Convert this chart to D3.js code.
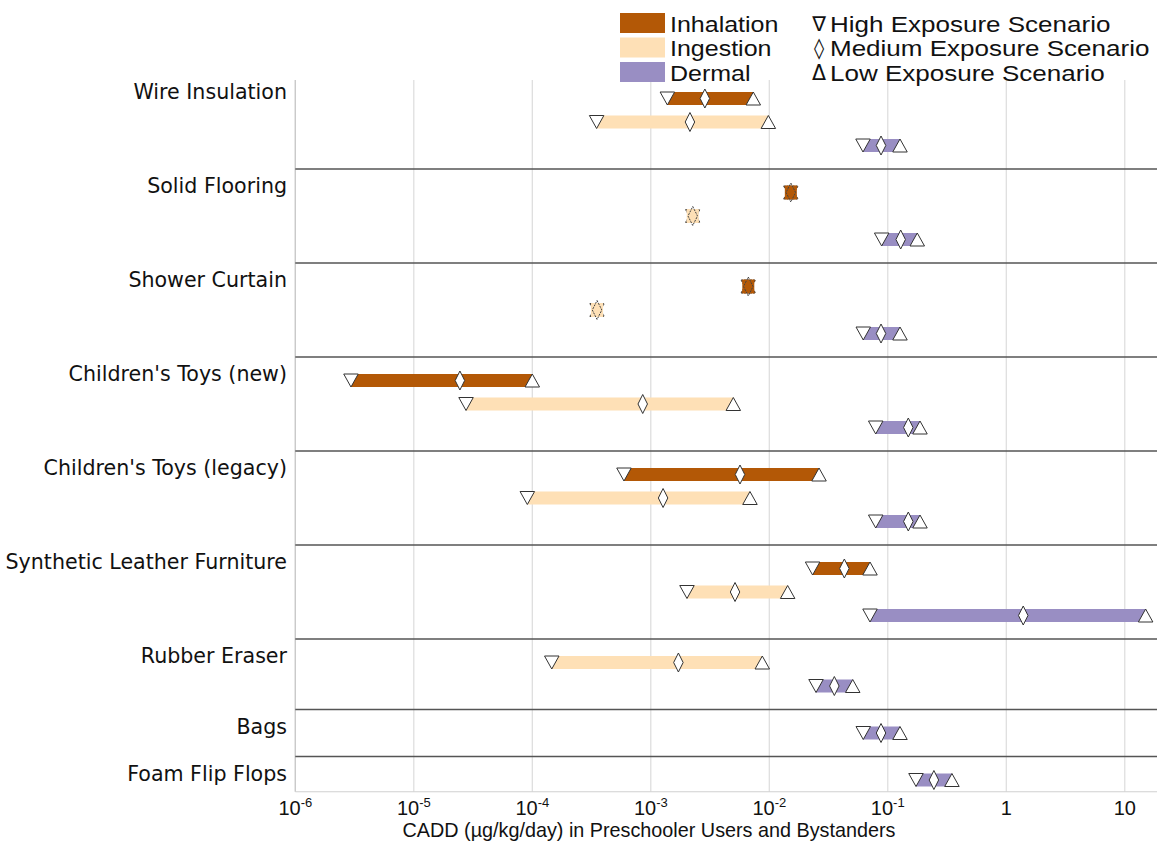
<!DOCTYPE html>
<html>
<head>
<meta charset="utf-8">
<script src="https://cdn.jsdelivr.net/npm/d3@7"></script>
<style>
  html, body { margin: 0; padding: 0; background: #fff; }
  svg { display: block; }
</style>
</head>
<body>
<svg id="chart" width="1157" height="842"></svg>
<script>
// ---------- data ----------
const categories = [
  "Wire Insulation", "Solid Flooring", "Shower Curtain", "Children's Toys (new)",
  "Children's Toys (legacy)", "Synthetic Leather Furniture", "Rubber Eraser", "Bags", "Foam Flip Flops"
];
const routes = ["Inhalation", "Ingestion", "Dermal"];
const routeColors = ["#b35806", "#fee0b6", "#998ec3"];
// [High, Medium, Low] scenario values per category (null = route not assessed)
const inhalation = [
  [1.38e-3, 2.86e-3, 7.33e-3],
  [0.0152, 0.0152, 0.0152],
  [6.65e-3, 6.65e-3, 6.65e-3],
  [2.95e-6, 2.45e-5, 1.0e-4],
  [5.94e-4, 5.66e-3, 0.0263],
  [0.0232, 0.0430, 0.0708],
  null, null, null
];
const ingestion = [
  [3.49e-4, 2.14e-3, 9.82e-3],
  [2.26e-3, 2.26e-3, 2.26e-3],
  [3.52e-4, 3.52e-4, 3.52e-4],
  [2.76e-5, 8.55e-4, 4.97e-3],
  [9.08e-5, 1.27e-3, 6.87e-3],
  [2.02e-3, 5.14e-3, 0.01429],
  [1.46e-4, 1.71e-3, 8.73e-3],
  null, null
];
const dermal = [
  [0.0618, 0.0877, 0.1268],
  [0.0888, 0.1285, 0.1774],
  [0.0621, 0.0877, 0.1268],
  [0.0791, 0.149, 0.187],
  [0.0791, 0.149, 0.187],
  [0.0708, 1.39, 15.0],
  [0.0248, 0.0354, 0.0506],
  [0.0621, 0.0877, 0.1268],
  [0.173, 0.245, 0.348]
];
const scenarioLabels = ["High Exposure Scenario", "Medium Exposure Scenario", "Low Exposure Scenario"];
const scenarioSymbols = ["\u2207", "\u25CA", "\u0394"];
const tickValues = [1e-6, 1e-5, 1e-4, 1e-3, 1e-2, 1e-1, 1, 10];
const tickLabels = [["10", "-6"], ["10", "-5"], ["10", "-4"], ["10", "-3"], ["10", "-2"], ["10", "-1"], ["1", ""], ["10", ""]];
const axisTitle = "CADD (\u00B5g/kg/day) in Preschooler Users and Bystanders";

// ---------- layout ----------
(function draw() {
const svg = d3.select("#chart");
const plotLeft = 295.3, plotRight = 1157, plotTop = 75, unitH = 23.5;
const x = d3.scaleLog().domain([1e-6, Math.pow(10, 1.272)]).range([plotLeft, plotRight]);

const routeData = [inhalation, ingestion, dermal];
const rows = [];
const panels = [];
let u = 0;
categories.forEach((cat, ci) => {
  const start = u;
  routeData.forEach((arr, ri) => {
    if (arr[ci]) {
      u += 1;
      rows.push({ cat: ci, route: ri, unit: u, vals: arr[ci] });
    }
  });
  panels.push({ name: cat, start: start, firstUnit: start + 1 });
  u += 1;
});
const totalUnits = u - 0.5;
const y = d3.scaleLinear().domain([0, totalUnits]).range([plotTop, plotTop + totalUnits * unitH]);
const bottom = y(totalUnits);

svg.append("g").selectAll("line").data(tickValues).join("line")
  .attr("x1", d => x(d)).attr("x2", d => x(d))
  .attr("y1", 80).attr("y2", bottom)
  .attr("stroke", "#dcdcdc").attr("stroke-width", 1.2);

svg.append("line").attr("x1", plotLeft).attr("x2", plotLeft).attr("y1", 80).attr("y2", bottom)
  .attr("stroke", "#c8c8c8").attr("stroke-width", 1.2);
svg.append("line").attr("x1", plotLeft).attr("x2", plotRight).attr("y1", bottom).attr("y2", bottom)
  .attr("stroke", "#d0d0d0").attr("stroke-width", 1.2);

svg.append("g").selectAll("line").data(panels.slice(1)).join("line")
  .attr("x1", plotLeft).attr("x2", plotRight)
  .attr("y1", d => y(d.start)).attr("y2", d => y(d.start))
  .attr("stroke", "#555").attr("stroke-width", 1.3);

svg.append("g").selectAll("text").data(panels).join("text")
  .attr("x", 287).attr("y", d => y(d.firstUnit) + 0.5)
  .attr("text-anchor", "end")
  .attr("font-family", "'DejaVu Sans', Verdana, sans-serif")
  .attr("font-size", 20.6).attr("fill", "#111")
  .text(d => d.name);

const barH = 13;
const triW = 14.5, triH = 13;
const diaW = 9.5, diaH = 19;
const gRows = svg.append("g");
rows.forEach(r => {
  const cy = y(r.unit);
  const [hi, med, lo] = r.vals;
  const color = routeColors[r.route];
  const same = hi === lo;
  gRows.append("rect")
    .attr("x", x(hi)).attr("width", Math.max(0, x(lo) - x(hi)))
    .attr("y", cy - barH / 2).attr("height", barH)
    .attr("fill", color);
  const mFill = same ? color : "#fff";
  const mStroke = same ? "#444" : "#333";
  const dash = same ? "2,1" : null;
  const xh = x(hi), xl = x(lo), xm = x(med);
  gRows.append("path")
    .attr("d", `M${xh - triW / 2},${cy - triH / 2}L${xh + triW / 2},${cy - triH / 2}L${xh},${cy + triH / 2}Z`)
    .attr("fill", mFill).attr("stroke", mStroke).attr("stroke-width", 1).attr("stroke-dasharray", dash);
  gRows.append("path")
    .attr("d", `M${xl - triW / 2},${cy + triH / 2}L${xl + triW / 2},${cy + triH / 2}L${xl},${cy - triH / 2}Z`)
    .attr("fill", mFill).attr("stroke", mStroke).attr("stroke-width", 1).attr("stroke-dasharray", dash);
  if (same) {
    gRows.append("rect").attr("x", xh - 6).attr("y", cy - 7).attr("width", 12).attr("height", 14).attr("fill", color);
  }
  gRows.append("path")
    .attr("d", `M${xm},${cy - diaH / 2}L${xm + diaW / 2},${cy}L${xm},${cy + diaH / 2}L${xm - diaW / 2},${cy}Z`)
    .attr("fill", same ? "none" : "#fff").attr("stroke", mStroke).attr("stroke-width", 1).attr("stroke-dasharray", dash);
});

const tl = svg.append("g").selectAll("text").data(tickValues).join("text")
  .attr("x", d => x(d)).attr("y", 815)
  .attr("text-anchor", "middle")
  .attr("font-family", "'Liberation Sans', Arial, sans-serif")
  .attr("font-size", 20).attr("fill", "#111");
tl.each(function(d, i) {
  const t = d3.select(this);
  t.append("tspan").text(tickLabels[i][0]);
  if (tickLabels[i][1]) {
    t.append("tspan").attr("font-size", 13).attr("dy", -8).text(tickLabels[i][1]);
  }
});

svg.append("text").attr("x", 649).attr("y", 837)
  .attr("text-anchor", "middle")
  .attr("font-family", "'Liberation Sans', Arial, sans-serif")
  .attr("font-size", 19.8).attr("fill", "#111")
  .text(axisTitle);

// legend: measure natural width at the reference size, then draw slightly
// smaller type stretched to the same width so rows do not collide
const lg = svg.append("g");
const legY = [13, 37.5, 62];
function legendText(xPos, yPos, str, natSize) {
  const t = lg.append("text").attr("x", xPos).attr("y", yPos)
    .attr("font-family", "'Liberation Sans', Arial, sans-serif")
    .attr("font-size", natSize).attr("fill", "#111").text(str);
  const w = t.node().getComputedTextLength();
  t.attr("font-size", 21.6).attr("textLength", w).attr("lengthAdjust", "spacingAndGlyphs");
  return t;
}
routes.forEach((r, i) => {
  lg.append("rect").attr("x", 620).attr("y", legY[i]).attr("width", 45).attr("height", 20)
    .attr("fill", routeColors[i]);
  legendText(670, legY[i] + 18.5, r, 25);
});
scenarioLabels.forEach((s, i) => {
  lg.append("text").attr("x", 819).attr("y", legY[i] + 17.5)
    .attr("text-anchor", "middle")
    .attr("font-family", "'DejaVu Sans', sans-serif")
    .attr("font-size", 20.5).attr("fill", "#111").text(scenarioSymbols[i]);
  legendText(830, legY[i] + 18.5, s, 26);
});
})();
</script>
</body>
</html>
